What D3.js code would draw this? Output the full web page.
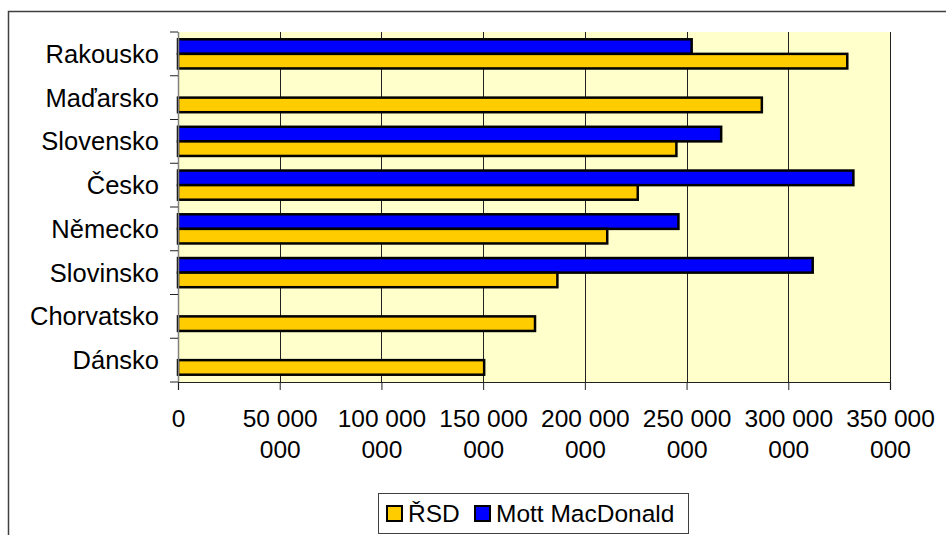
<!DOCTYPE html>
<html>
<head>
<meta charset="utf-8">
<script src="https://cdn.jsdelivr.net/npm/d3@7"></script>
<style>
	body { margin: 0; background: #fff; }
	text { font-family: "Liberation Sans", Arial, sans-serif; fill: #000; }
</style>
</head>
<body>
<div id="chart"></div>
<script>
// chart data (values in millions)
var categories = ["Rakousko", "Maďarsko", "Slovensko", "Česko", "Německo", "Slovinsko", "Chorvatsko", "Dánsko"];
var rsdValues = [329, 287, 245, 226, 211, 186.5, 175.5, 150.5];
var mottValues = [252.5, null, 267, 332, 246, 312, null, null];
var seriesNames = ["ŘSD", "Mott MacDonald"];
var xTicks = [0, 50, 100, 150, 200, 250, 300, 350];

var width = 946, height = 535;
var plotLeft = 178, plotRight = 890, plotTop = 32, plotBottom = 382;
var fontSize = "24.5px";

var svg = d3.select("#chart")
	.append("svg")
	.attr("width", width)
	.attr("height", height);

// (frame) outer chart border
svg.append("rect")
	.attr("x", 8.5)
	.attr("y", 11.5)
	.attr("width", 1000)
	.attr("height", 600)
	.attr("fill", "#fff")
	.attr("stroke", "#404040")
	.attr("stroke-width", 1.5);

// scales
var x = d3.scaleLinear().domain([0, 350]).range([plotLeft, plotRight]);
var y = d3.scaleBand().domain(categories).range([plotTop, plotBottom]).padding(0);
var sub = d3.scaleBand().domain(["mott", "rsd"]).range([0, y.bandwidth()]).paddingInner(0).paddingOuter(0.5);

// (plot) background
svg.append("rect")
	.attr("x", plotLeft)
	.attr("y", plotTop)
	.attr("width", plotRight - plotLeft)
	.attr("height", plotBottom - plotTop)
	.attr("fill", "#FFFFCC");

// (grid) vertical gridlines
svg.append("g")
	.selectAll("line")
	.data(xTicks.slice(1))
	.enter()
	.append("line")
	.attr("x1", function(d) { return Math.round(x(d)) + 0.5; })
	.attr("x2", function(d) { return Math.round(x(d)) + 0.5; })
	.attr("y1", plotTop)
	.attr("y2", plotBottom)
	.attr("stroke", "#222")
	.attr("stroke-width", 1);

// bars
var rows = categories.map(function(c, i) {
	return {cat: c, rsd: rsdValues[i], mott: mottValues[i]};
});
var keys = [{key: "mott", color: "#0000FF"}, {key: "rsd", color: "#FFCC00"}];
keys.forEach(function(k) {
	svg.append("g")
		.selectAll("rect")
		.data(rows.filter(function(d) { return d[k.key] != null; }))
		.enter()
		.append("rect")
		.attr("x", x(0))
		.attr("y", function(d) { return y(d.cat) + sub(k.key); })
		.attr("width", function(d) { return x(d[k.key]) - x(0); })
		.attr("height", sub.bandwidth())
		.attr("fill", k.color)
		.attr("stroke", "#000")
		.attr("stroke-width", 2.5);
});

// (x_axis) bottom axis
var xAxis = svg.append("g")
	.attr("transform", "translate(0," + plotBottom + ")")
	.call(d3.axisBottom(x).tickValues(xTicks).tickSize(8).tickFormat(function(d) { return d; }));
xAxis.select(".domain").attr("stroke", "#222").attr("stroke-width", 1.2);
xAxis.selectAll(".tick line").attr("stroke", "#222");
xAxis.selectAll(".tick text").each(function(d) {
	var t = d3.select(this).text("").attr("y", 0).attr("dy", null)
		.attr("font-size", fontSize).attr("font-family", null);
	if (d === 0) {
		t.append("tspan").attr("x", 0).attr("y", 45).text("0");
	} else {
		t.append("tspan").attr("x", 0).attr("y", 45).text(d + " 000");
		t.append("tspan").attr("x", 0).attr("y", 76).text("000");
	}
});

// (y_axis) category axis
var yAxis = svg.append("g")
	.attr("transform", "translate(" + plotLeft + ",0)")
	.call(d3.axisLeft(y).tickSize(0).tickPadding(19));
yAxis.select(".domain").remove();
yAxis.selectAll(".tick text")
	.attr("font-size", "25.5px")
	.attr("font-family", null)
	.attr("dy", "0.35em");
svg.append("line")
	.attr("x1", plotLeft + 0.5).attr("x2", plotLeft + 0.5)
	.attr("y1", plotTop).attr("y2", plotBottom)
	.attr("stroke", "#808080").attr("stroke-width", 1.5);
svg.append("g")
	.selectAll("line")
	.data(categories.concat(["_end"]))
	.enter()
	.append("line")
	.attr("x1", plotLeft - 8).attr("x2", plotLeft)
	.attr("y1", function(d, i) { return plotTop + i * y.step(); })
	.attr("y2", function(d, i) { return plotTop + i * y.step(); })
	.attr("stroke", "#222");

// legend
var legend = svg.append("g");
legend.append("rect")
	.attr("x", 378.5).attr("y", 493.5)
	.attr("width", 310).attr("height", 40)
	.attr("fill", "#fff")
	.attr("stroke", "#404040");
var legendItems = [
	{name: seriesNames[0], color: "#FFCC00", x: 387},
	{name: seriesNames[1], color: "#0000FF", x: 475}
];
legendItems.forEach(function(d) {
	legend.append("rect")
		.attr("x", d.x).attr("y", 506)
		.attr("width", 15).attr("height", 15)
		.attr("fill", d.color)
		.attr("stroke", "#000")
		.attr("stroke-width", 2);
	legend.append("text")
		.attr("x", d.x + 21).attr("y", 521.5)
		.attr("font-size", fontSize)
		.text(d.name);
});
</script>
</body>
</html>
